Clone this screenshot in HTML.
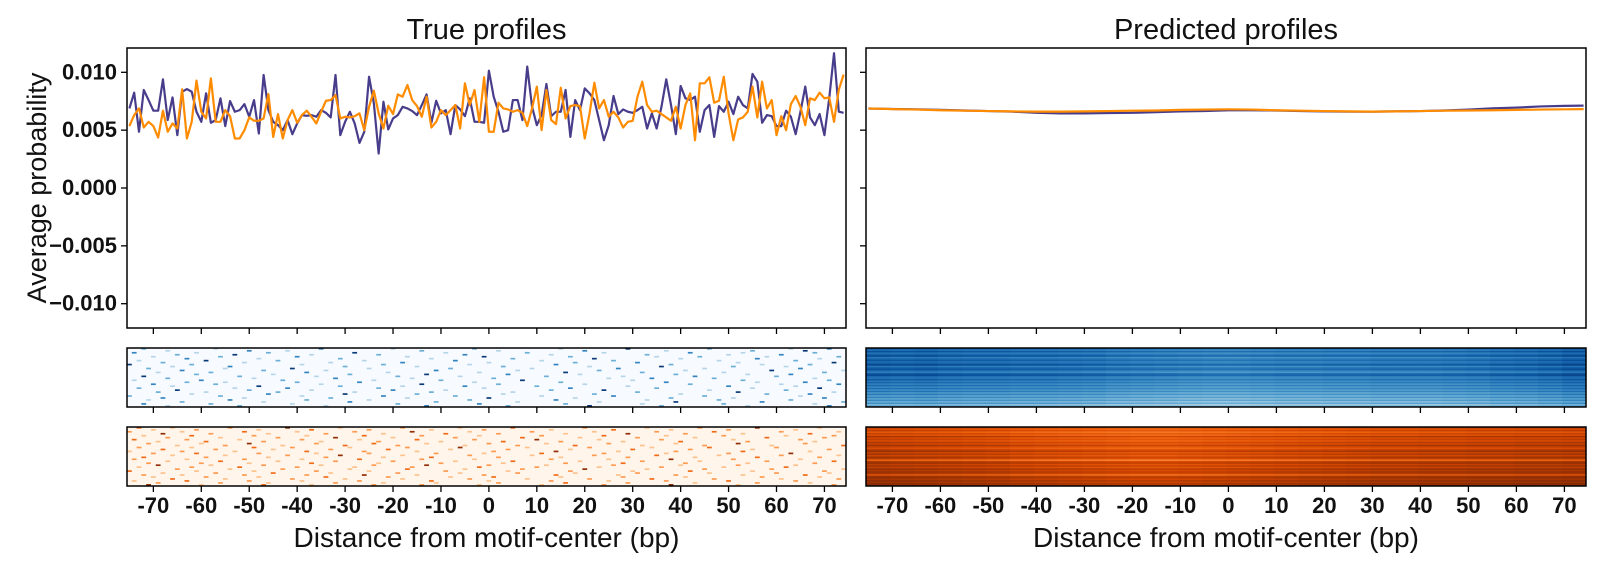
<!DOCTYPE html>
<html><head><meta charset="utf-8">
<style>
html,body{margin:0;padding:0;background:#fff;width:1600px;height:567px;overflow:hidden}
svg{display:block;font-family:"Liberation Sans",sans-serif}
.tk{font-weight:bold;font-size:22px;fill:#111}
</style></head>
<body>
<svg id="chart" width="1600" height="567" viewBox="0 0 1600 567" xmlns="http://www.w3.org/2000/svg">
<text x="486.5" y="39" text-anchor="middle" font-size="29" fill="#111">True profiles</text>
<text x="1226" y="39" text-anchor="middle" font-size="29" fill="#111">Predicted profiles</text>
<text transform="translate(46,188) rotate(-90)" text-anchor="middle" font-size="27" fill="#111">Average probability</text>
<text x="486.5" y="547" text-anchor="middle" font-size="28" fill="#111">Distance from motif-center (bp)</text>
<text x="1226" y="547" text-anchor="middle" font-size="28" fill="#111">Distance from motif-center (bp)</text>
<g id="layer"></g>
</svg>
<script>
// ---- data (values in units of 0.001) ----
const truePos = [];
for (let i = -75; i <= 74; i++) truePos.push(i);
const trueFwd = [6.88,8.24,4.86,8.47,7.6,6.68,6.68,9.39,5.87,7.83,4.57,8.32,8.55,8.32,6.59,5.72,8.18,5.64,5.87,7.75,5.35,7.51,6.59,6.73,7.25,6.16,7.6,4.71,9.77,6.73,5.72,5.43,5.0,5.87,4.65,5.58,6.3,6.24,6.3,6.16,6.73,6.5,6.1,9.77,4.57,5.72,6.59,5.58,3.9,4.86,9.62,7.31,2.98,7.46,5.06,6.01,6.3,7.02,6.88,6.65,6.3,7.17,8.09,5.64,7.54,6.45,6.73,4.65,7.17,6.79,6.21,7.75,5.72,5.72,
5.64,10.14,7.89,6.59,4.86,5.0,7.6,7.6,5.87,10.49,7.02,5.43,6.3,8.99,6.21,6.59,6.59,8.47,4.42,7.6,6.73,8.61,8.18,7.6,5.87,4.13,5.43,7.95,6.39,6.79,6.59,6.5,6.73,7.02,5.14,6.45,5.14,7.02,9.39,7.17,4.65,8.82,7.75,7.6,7.89,4.86,6.73,7.17,4.42,7.08,6.59,7.46,6.39,7.89,7.17,6.88,9.86,9.19,5.64,6.3,6.21,5.35,5.35,6.68,6.16,4.65,6.59,8.76,6.1,5.43,6.39,4.57,7.75,11.65,6.6,6.5];
const trueRev = [5.35,6.3,6.88,5.23,5.72,5.35,4.36,6.68,4.86,5.58,5.14,8.53,4.28,5.72,9.28,6.59,6.01,9.48,5.72,5.72,6.73,6.21,4.28,4.28,5.0,6.1,5.81,5.81,6.01,8.12,4.42,6.39,4.28,5.87,6.73,5.64,6.3,6.68,6.16,5.58,6.59,7.54,7.6,8.03,6.01,6.16,6.1,6.21,6.45,5.0,7.02,8.41,6.45,5.14,7.11,6.39,8.09,7.89,8.9,7.6,7.08,6.16,7.89,5.23,5.72,6.73,6.3,6.73,7.17,5.14,9.05,7.17,8.47,5.72,
9.57,4.86,4.86,7.37,6.88,6.79,6.59,6.73,6.5,5.35,6.88,8.76,5.0,8.47,5.87,5.52,8.67,6.01,7.08,7.17,7.08,4.28,6.45,9.1,6.88,7.6,6.16,6.59,6.1,5.23,5.72,5.81,7.89,9.19,7.17,6.59,6.68,6.39,6.1,5.81,7.02,5.14,7.17,8.18,4.13,9.05,9.05,9.57,7.37,7.54,9.62,6.45,4.13,5.92,6.1,6.59,8.76,6.1,9.19,6.88,7.6,4.57,6.21,5.0,7.25,7.95,7.02,5.43,7.75,7.6,8.24,7.75,7.83,5.72,8.5,9.8];
const predPos = [-75,-70,-65,-60,-55,-50,-45,-40,-35,-30,-25,-20,-15,-10,-5,0,5,10,15,20,25,30,35,40,45,50,55,60,65,70,74];
const predFwd = [6.87,6.83,6.8,6.75,6.7,6.65,6.6,6.5,6.45,6.45,6.48,6.5,6.55,6.62,6.65,6.72,6.72,6.7,6.65,6.62,6.6,6.6,6.62,6.65,6.7,6.78,6.88,6.95,7.05,7.1,7.12];
const predRev = [6.87,6.82,6.78,6.72,6.68,6.65,6.62,6.6,6.6,6.62,6.65,6.68,6.7,6.75,6.78,6.8,6.78,6.72,6.68,6.65,6.62,6.6,6.62,6.65,6.68,6.7,6.72,6.75,6.78,6.8,6.82];
const yTicks = [0.010,0.005,0.000,-0.005,-0.010];
const yTickLabels = ["0.010","0.005","0.000","\u22120.005","\u22120.010"];
const xTicks = [-70,-60,-50,-40,-30,-20,-10,0,10,20,30,40,50,60,70];
// sparse heatmaps: per row [col,level,col,level,...]
const trueHeatFwd = [
[3,2,18,1,40,3,55,1,72,2,90,1,104,4,121,2,138,1,146,3],
[8,1,25,3,33,1,61,2,77,1,95,3,112,1,130,2,141,4],
[1,3,14,1,29,2,47,4,66,1,83,2,99,1,117,3,128,1,143,2],
[10,2,22,4,38,1,52,2,70,3,88,1,108,2,125,1,136,3],
[5,1,19,2,35,3,58,1,74,4,92,2,110,1,119,2,133,1,148,2],
[12,3,27,1,44,2,63,1,80,2,97,4,115,1,131,3,144,1],
[2,1,16,4,31,2,49,1,68,3,86,1,101,2,123,1,139,2],
[7,2,24,1,42,1,57,3,75,1,93,2,106,3,127,1,147,4],
[0,4,13,2,36,1,53,2,71,1,89,3,113,2,132,1,142,2],
[9,1,21,3,45,2,60,1,78,2,96,1,111,4,126,2,137,1],
[4,2,20,1,34,4,50,1,67,2,84,1,102,3,120,1,140,3],
[11,3,28,2,41,1,64,3,81,1,98,2,116,1,134,4,149,1],
[6,1,17,2,37,3,54,1,73,1,91,4,107,2,124,1,145,2],
[14,2,30,1,46,2,62,4,79,3,94,1,114,2,129,1,138,3],
[3,4,23,2,39,1,56,2,69,1,87,2,103,1,118,3,135,2],
[8,2,26,1,43,3,59,1,76,2,100,1,109,3,122,2,143,1],
[1,1,15,3,32,2,51,1,65,2,82,4,105,1,128,2,146,2],
[12,2,20,1,35,2,48,3,72,1,90,2,112,3,131,1,141,3],
[5,3,18,2,40,1,61,4,77,2,95,1,117,2,136,1,148,3],
[9,1,27,4,44,2,57,1,70,3,85,2,104,1,125,3,139,1],
[2,2,22,1,33,3,52,2,74,1,92,3,110,2,130,1,144,4],
[10,4,25,2,38,1,55,3,66,1,88,2,99,4,121,1,137,2],
[6,2,16,1,31,2,47,1,63,2,80,1,106,2,127,4,147,1],
[13,1,29,3,45,4,60,2,78,1,97,2,115,1,133,2,142,3],
[0,2,19,2,36,1,53,3,68,2,86,1,101,3,120,2,140,1],
[7,3,24,1,42,2,58,1,75,4,93,1,113,2,126,1,145,3],
[4,1,21,3,37,2,50,1,71,2,89,3,108,1,123,2,138,2],
[11,2,28,1,46,3,64,2,81,1,98,1,114,4,132,3,149,2],
[3,3,17,2,34,1,56,2,73,3,91,2,107,1,124,2,143,1],
[8,1,23,2,41,1,62,3,79,2,96,4,111,2,129,1,146,3]];
const trueHeatRev = [
[2,3,9,1,21,2,33,4,44,1,57,2,69,1,80,3,95,2,108,1,119,2,131,4,144,1],
[5,1,14,2,27,1,38,3,50,2,63,1,74,2,88,1,101,3,113,1,125,2,139,1],
[0,2,11,1,24,3,35,1,47,2,59,4,71,1,84,2,97,1,110,2,122,3,136,2,148,1],
[7,4,17,2,29,1,41,2,53,1,66,3,77,2,91,1,104,4,116,2,128,1,142,3],
[3,1,13,3,26,2,37,1,49,3,61,2,73,1,86,2,99,3,112,1,124,2,137,1,147,2],
[8,2,19,1,31,2,43,4,55,1,68,2,82,3,94,1,106,2,118,1,133,3,145,2],
[1,3,12,2,23,1,36,2,48,1,60,3,72,2,85,4,98,1,111,2,126,1,140,2],
[6,1,16,3,28,2,40,1,52,2,65,1,78,3,90,2,103,1,115,3,129,2,143,1],
[4,2,15,1,25,4,39,2,51,3,62,1,75,2,87,1,100,2,114,1,127,4,141,2],
[10,1,20,2,32,1,45,3,56,2,70,1,81,2,93,3,107,1,120,2,134,1,149,3],
[2,2,13,1,26,3,34,2,46,1,58,2,69,4,83,1,96,2,109,1,121,3,135,2],
[7,3,18,2,30,1,42,2,54,3,67,1,79,2,92,1,105,3,117,2,130,1,146,2],
[0,1,11,2,22,1,37,3,49,2,60,1,76,2,89,4,102,1,114,2,128,3,142,1],
[5,2,14,3,27,2,39,1,50,2,64,2,74,1,86,3,99,2,112,1,125,2,138,4],
[9,1,20,1,33,2,44,4,57,1,71,2,84,1,97,2,110,3,123,1,136,2,148,1],
[3,3,16,2,29,1,41,2,53,1,63,3,77,2,90,1,104,2,118,1,131,3,144,2],
[1,2,12,1,24,2,36,1,48,3,61,2,72,1,88,2,100,1,113,4,126,2,140,1],
[8,1,19,3,31,1,43,2,55,2,68,1,80,3,94,1,107,2,119,1,133,2,147,3],
[4,2,15,2,25,1,38,3,52,1,65,2,78,1,91,2,103,3,116,2,129,1,143,2],
[6,4,17,1,28,2,40,1,51,2,62,4,75,2,87,1,101,2,115,1,127,2,139,1],
[2,1,13,2,23,3,35,2,47,1,59,2,73,3,85,2,98,1,111,2,124,1,137,3],
[10,2,21,1,32,2,46,1,58,3,70,1,82,2,95,4,108,1,120,2,134,2,149,1],
[0,3,14,1,26,1,39,2,50,1,66,2,79,1,92,2,105,1,117,3,130,1,145,2],
[7,1,18,2,30,3,42,1,56,2,69,1,81,2,93,1,106,2,121,1,135,2,146,1],
[3,2,11,1,24,2,37,2,49,4,60,1,74,2,89,3,102,1,114,2,128,1,141,3],
[5,1,16,2,27,1,41,3,54,2,67,1,76,3,90,1,103,2,116,1,132,2,144,1],
[9,3,20,1,34,2,45,1,57,1,71,2,83,1,96,2,109,3,122,2,136,1,148,2],
[1,1,12,3,25,2,36,1,48,2,63,3,75,1,88,2,100,1,112,2,125,3,139,2],
[6,2,19,2,29,1,43,2,53,1,64,1,77,2,91,3,104,2,118,1,131,2,142,1],
[4,4,15,1,28,3,38,1,51,2,61,2,73,1,86,1,99,2,113,4,127,1,147,2]];
// dense predicted heatmaps: row level + column level (0..1 colormap units)
const predRowFwd = [0.78,0.70,0.82,0.68,0.76,0.84,0.66,0.75,0.80,0.70,0.77,0.86,0.67,0.76,0.82,0.72,0.64,0.80,0.84,0.72,0.68,0.78,0.66,0.74,0.62,0.73,0.60,0.71,0.58,0.69,0.54,0.66,0.50,0.63,0.48,0.60,0.44,0.57,0.40,0.52];
const predColFwd = [0.06,0.05,0.06,0.04,0.03,0.03,0.02,0.02,0.01,0.00,-0.02,-0.03,-0.04,-0.05,-0.06,-0.06,-0.05,-0.04,-0.04,-0.03,-0.03,-0.02,-0.02,-0.02,-0.01,0.00,0.02,0.03,0.05,0.08];
const predRowRev = [0.80,0.70,0.78,0.64,0.76,0.68,0.84,0.72,0.78,0.70,0.82,0.74,0.86,0.76,0.70,0.80,0.88,0.76,0.84,0.74,0.86,0.80,0.60,0.82,0.88,0.78,0.86,0.76,0.90,0.82,0.88,0.84,0.66,0.88,0.90,0.84,0.92,0.86,0.93,0.90];
const predColRev = [0.04,0.03,0.02,0.01,0.00,-0.01,-0.03,-0.04,-0.05,-0.06,-0.07,-0.08,-0.08,-0.07,-0.06,-0.05,-0.04,-0.03,-0.02,-0.01,0.00,0.01,0.01,0.02,0.02,0.03,0.03,0.04,0.04,0.05];

const NS = "http://www.w3.org/2000/svg";
const layer = document.getElementById('layer');
const panels = [{x0:127,x1:846,side:'left'},{x0:866,x1:1586,side:'right'}];
const xMin = -75.5, xMax = 74.5, yMin = -0.0121, yMax = 0.0121;
const mainTop = 48, mainBot = 328;
const h1 = [348,407], h2 = [427,486];
const BLUES = ['#f7fbff','#deebf7','#c6dbef','#9ecae1','#6baed6','#4292c6','#2171b5','#08519c','#08306b'];
const ORANGES = ['#fff5eb','#fee6ce','#fdd0a2','#fdae6b','#fd8d3c','#f16913','#d94801','#a63603','#7f2704'];
function cmap(pal, v){v=Math.max(0,Math.min(1,v));const t=v*(pal.length-1);const i=Math.min(pal.length-2,Math.floor(t));const f=t-i;
 const a=parseInt(pal[i].slice(1),16),b=parseInt(pal[i+1].slice(1),16);
 const c=[16,8,0].map(s=>Math.round(((a>>s)&255)*(1-f)+((b>>s)&255)*f));return 'rgb('+c.join(',')+')';}
function mk(tag, attrs, parent){const e=document.createElementNS(NS,tag);for(const k in attrs)e.setAttribute(k,attrs[k]);(parent||layer).appendChild(e);return e;}
function xs(p,v){return p.x0+(v-xMin)/(xMax-xMin)*(p.x1-p.x0);}
function ys(v){return mainTop+(yMax-v)/(yMax-yMin)*(mainBot-mainTop);}

function drawLine(p, xsArr, vals, color, name){
  const pts = xsArr.map((x,i)=>xs(p,x).toFixed(2)+','+ys(vals[i]*0.001).toFixed(2)).join(' ');
  const el = mk('polyline',{points:pts,fill:'none',stroke:color,'stroke-width':2.2,'stroke-linejoin':'round'});
  
  
}
function xTickMarks(p, yBottom, labels){
  xTicks.forEach(t=>{
    const l = mk('line',{x1:xs(p,t),x2:xs(p,t),y1:yBottom,y2:yBottom+6,stroke:'#000','stroke-width':1.3});
    
    
    if(labels){
      const tx = mk('text',{x:xs(p,t),y:513,'text-anchor':'middle','class':'tk'});
      tx.textContent = t;
      
      
    }
  });
}
function sparseHeat(p, rows, yr, pal, lv, name){
  const g = mk('g',{});
  
  
  mk('rect',{x:p.x0,y:yr[0],width:p.x1-p.x0,height:yr[1]-yr[0],fill:pal[0]},g);
  const rh = (yr[1]-yr[0])/rows.length, cw = (p.x1-p.x0)/150;
  rows.forEach((r,ri)=>{
    for(let k=0;k<r.length;k+=2){
      const c = mk('rect',{x:(p.x0+r[k]*cw).toFixed(2),y:(yr[0]+ri*rh).toFixed(2),width:cw.toFixed(2),height:(rh*0.85).toFixed(2),fill:cmap(pal,lv[r[k+1]])},g);
      
      
    }
  });
  mk('rect',{x:p.x0,y:yr[0],width:p.x1-p.x0,height:yr[1]-yr[0],fill:'none',stroke:'#000','stroke-width':1.5},g);
}
function denseHeat(p, rowL, colL, yr, pal, name){
  const g = mk('g',{});
  
  
  const rh = (yr[1]-yr[0])/rowL.length, cw = (p.x1-p.x0)/colL.length;
  rowL.forEach((rv,ri)=>colL.forEach((cv,ci)=>{
    const c = mk('rect',{x:(p.x0+ci*cw).toFixed(2),y:(yr[0]+ri*rh).toFixed(2),width:(cw+0.5).toFixed(2),height:(rh+0.4).toFixed(2),fill:cmap(pal,rv+cv)},g);
    
    
  }));
  mk('rect',{x:p.x0,y:yr[0],width:p.x1-p.x0,height:yr[1]-yr[0],fill:'none',stroke:'#000','stroke-width':1.5},g);
}

panels.forEach(p=>{
  yTicks.forEach((t,i)=>{
    const l = mk('line',{x1:p.x0-6,x2:p.x0,y1:ys(t),y2:ys(t),stroke:'#000','stroke-width':1.3});
    
    
    if(p.side==='left'){
      const tx = mk('text',{x:p.x0-10,y:ys(t)+7,'text-anchor':'end','class':'tk'});
      tx.textContent = yTickLabels[i];
      
      
    }
  });
  xTickMarks(p, mainBot, false);
  xTickMarks(p, h1[1], false);
  xTickMarks(p, h2[1], true);
});
drawLine(panels[0], truePos, trueFwd, '#483d8b', 'true-forward-line');
drawLine(panels[0], truePos, trueRev, '#ff8c00', 'true-reverse-line');
drawLine(panels[1], predPos, predFwd, '#483d8b', 'pred-forward-line');
drawLine(panels[1], predPos, predRev, '#ff8c00', 'pred-reverse-line');
panels.forEach(p=>{
  const f = mk('rect',{x:p.x0,y:mainTop,width:p.x1-p.x0,height:mainBot-mainTop,fill:'none',stroke:'#000','stroke-width':1.5});
  
  
});
sparseHeat(panels[0], trueHeatFwd, h1, BLUES, [0,0.3,0.5,0.68,0.97], 'true-forward-heatmap');
sparseHeat(panels[0], trueHeatRev, h2, ORANGES, [0,0.3,0.45,0.62,0.95], 'true-reverse-heatmap');
denseHeat(panels[1], predRowFwd, predColFwd, h1, BLUES, 'pred-forward-heatmap');
denseHeat(panels[1], predRowRev, predColRev, h2, ORANGES, 'pred-reverse-heatmap');
</script>
</body></html>
